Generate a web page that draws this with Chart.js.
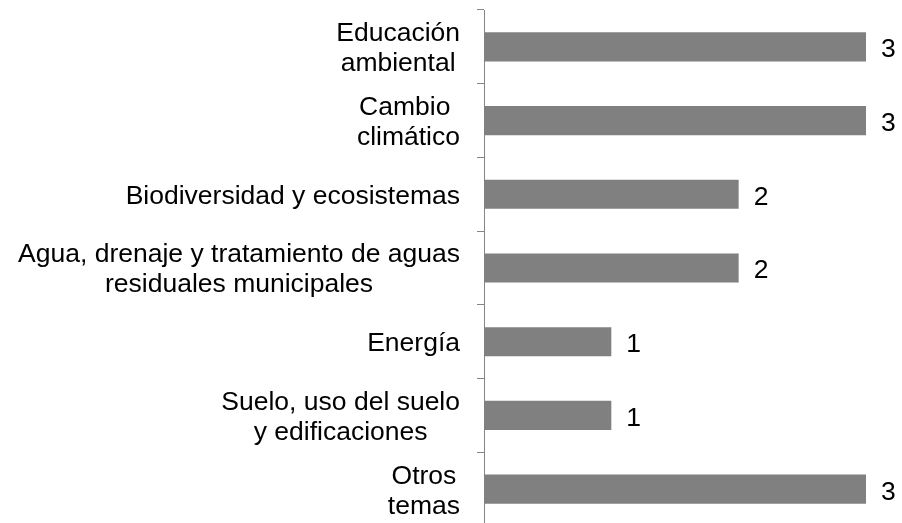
<!DOCTYPE html>
<html>
<head>
<meta charset="utf-8">
<script src="https://cdn.jsdelivr.net/npm/chart.js@4/dist/chart.umd.min.js"></script>
<style>
  html, body { margin: 0; background: #fff; overflow: hidden; }
</style>
</head>
<body>
<canvas id="bar-chart" width="902" height="526"></canvas>
<script>
// category labels, one array per line
const categories = [
  ["Educación", "ambiental"],
  ["Cambio ", "climático"],
  ["Biodiversidad y ecosistemas"],
  ["Agua, drenaje y tratamiento de aguas", "residuales municipales"],
  ["Energía"],
  ["Suelo, uso del suelo", "y edificaciones"],
  ["Otros", "temas"]
];
const values = [3, 3, 2, 2, 1, 1, 3];
const axisMin = 0;
const axisMax = 3;

const fontSize = 26.5;
const fontStr = fontSize + 'px "Liberation Sans", Arial, sans-serif';
const lineH = 30;
const capShift = fontSize * 0.716 / 2;

const labelPlugin = {
  id: 'labelPlugin',
  afterDraw(chart) {
    const ctx = chart.ctx;
    const y = chart.scales.y;
    ctx.save();
    ctx.font = fontStr;
    ctx.fillStyle = '#000';
    ctx.textBaseline = 'alphabetic';
    ctx.textAlign = 'center';
    categories.forEach((lines, i) => {
      const cy = y.getPixelForValue(i);
      const w = Math.max(...lines.map(l => ctx.measureText(l).width));
      const cx = y.right - 24 - w / 2;
      lines.forEach((l, j) => {
        ctx.fillText(l, cx, cy + capShift + (j - (lines.length - 1) / 2) * lineH);
      });
    });
    // value labels
    ctx.textAlign = 'left';
    chart.getDatasetMeta(0).data.forEach((bar, i) => {
      ctx.fillText(values[i], bar.x + 15, bar.y + capShift + 1);
    });
    ctx.restore();
  }
};

new Chart(document.getElementById("bar-chart"), {
  type: 'bar',
  data: {
    labels: categories.map(c => c.join(' ')),
    datasets: [{
      data: values,
      backgroundColor: '#808080',
      barPercentage: 0.395,
      categoryPercentage: 1
    }]
  },
  options: {
    indexAxis: 'y',
    responsive: false,
    animation: false,
    layout: { padding: { top: 10, right: 36, bottom: 0, left: 0 } },
    plugins: { legend: { display: false }, tooltip: { enabled: false } },
    scales: {
      x: { display: false, min: axisMin, max: axisMax },
      y: {
        grid: { offset: true, drawOnChartArea: false, tickLength: 7, color: '#868686' },
        border: { color: '#868686' },
        ticks: { display: false },
        afterFit: s => { s.width = 484; }
      }
    }
  },
  plugins: [labelPlugin]
});
</script>
</body>
</html>
